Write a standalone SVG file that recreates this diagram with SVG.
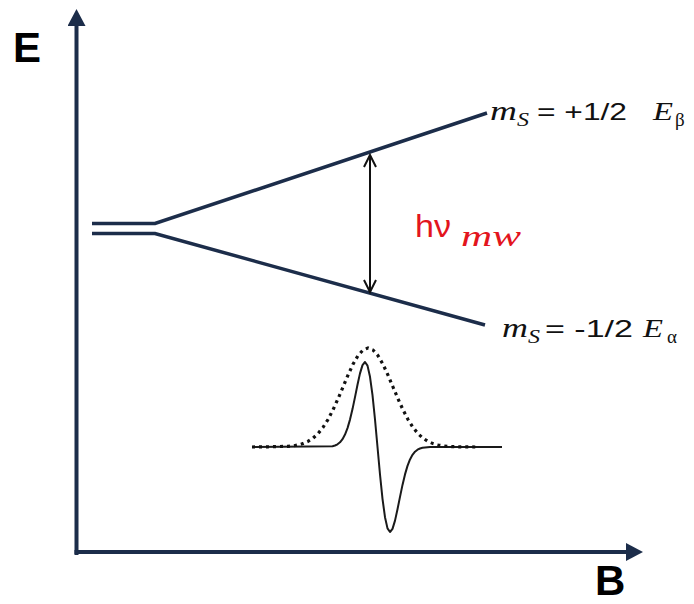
<svg xmlns="http://www.w3.org/2000/svg" width="694" height="604" viewBox="0 0 694 604">
<style>
.axis{stroke:#1c2d4a;stroke-width:4;fill:none}
.level{stroke:#1c2d4a;stroke-width:3.5;fill:none;stroke-linejoin:miter}
.conn{stroke:#111;stroke-width:2;fill:none}
.axlab{font-family:"Liberation Sans",Arial,sans-serif;font-weight:bold;font-size:42px;fill:#000}
.math{font-family:"Liberation Serif","Times New Roman",serif;font-style:italic;fill:#111}
.num{font-family:"Liberation Sans",Arial,sans-serif;font-size:24px;fill:#111}
.greek{font-family:"Liberation Serif","Times New Roman",serif;font-size:19px;fill:#111}
.red{fill:#e3151d}
.sig{stroke:#1a1a1a;stroke-width:2;fill:none;stroke-linejoin:round}
.dots{stroke:#111;stroke-width:3.2;fill:none;stroke-dasharray:3 4}
</style>
<defs>
<marker id="axhead" markerUnits="userSpaceOnUse" markerWidth="18" markerHeight="18" refX="10" refY="9" orient="auto">
<path d="M0,0 L17,9 L0,18 z" fill="#1c2d4a"/>
</marker>
<marker id="vhead" markerUnits="userSpaceOnUse" markerWidth="16" markerHeight="16" refX="13" refY="7" orient="auto-start-reverse">
<path d="M1,1 L13,7 L1,13" fill="none" stroke="#111" stroke-width="2"/>
</marker>
</defs>

<g id="axes">
<line class="axis" x1="76.5" y1="555" x2="76.5" y2="16" marker-end="url(#axhead)"/>
<line class="axis" x1="74.5" y1="552" x2="636" y2="552" marker-end="url(#axhead)"/>
<text class="axlab" x="13" y="62">E</text>
<text class="axlab" x="595" y="595" font-size="40">B</text>
</g>

<g id="level-beta">
<polyline class="level" points="92,223.5 155,223.5 487,113"/>
<text class="math" x="490" y="120" font-size="28" textLength="27" lengthAdjust="spacingAndGlyphs">m</text>
<text class="math" x="517" y="126" font-size="19" textLength="12" lengthAdjust="spacingAndGlyphs">S</text>
<text class="num" x="537" y="120" textLength="90" lengthAdjust="spacingAndGlyphs">= +1/2</text>
<text class="math" x="653" y="120" font-size="25" textLength="20" lengthAdjust="spacingAndGlyphs">E</text>
<text class="greek" x="675" y="126">β</text>
</g>

<g id="level-alpha">
<polyline class="level" points="92,233.5 155,233.5 485,325"/>
<text class="math" x="502" y="337" font-size="28" textLength="26" lengthAdjust="spacingAndGlyphs">m</text>
<text class="math" x="528" y="343" font-size="19" textLength="12" lengthAdjust="spacingAndGlyphs">S</text>
<text class="num" x="545" y="337" textLength="88" lengthAdjust="spacingAndGlyphs">= -1/2</text>
<text class="math" x="643" y="337" font-size="25" textLength="20" lengthAdjust="spacingAndGlyphs">E</text>
<text class="greek" x="667" y="343">α</text>
</g>

<g id="connectors">
<line class="conn" x1="370" y1="155" x2="370" y2="292" marker-start="url(#vhead)" marker-end="url(#vhead)"/>
</g>

<g id="transition-label">
<text class="red" x="415" y="237" font-family="Liberation Sans, Arial, sans-serif" font-size="32" textLength="36" lengthAdjust="spacingAndGlyphs">hν</text>
<text class="math red" x="461" y="246" font-size="30" textLength="60" lengthAdjust="spacingAndGlyphs">mw</text>
</g>

<g id="spectrum">
<polyline class="sig" points="252,447 332.5,446.2 335,445.5 337.5,444.3 340,442.3 342.5,439.2 345,434.6 347.5,428.1 350,419.6 352.5,409.1 355,397.1 357.5,384.7 360,373.4 362.5,365.1 365,362 367.5,365.6 370,376.8 372.5,395.2 375,419.5 377.5,447 380,474.5 382.5,498.8 385,517.2 387.5,528.4 390,532 392.5,528.9 395,520.6 397.5,509.3 400,496.9 402.5,484.9 405,474.4 407.5,465.9 410,459.4 412.5,454.8 415,451.7 417.5,449.7 420,448.5 422.5,447.8 430,447 502,447"/>
<polyline class="dots" points="252,447 268,446.8 278,446.5 288,446.4 293,445.9 298,445 303,443.6 308,441.4 313,438.2 318,433.6 323,427.4 328,419.5 333,409.8 338,398.8 343,387 348,375.1 353,364.3 358,355.6 363,350 368,348 373,350 378,355.6 383,364.3 388,375.1 393,387 398,398.8 403,409.8 408,419.5 413,427.4 418,433.6 423,438.2 428,441.4 433,443.6 438,445 443,445.9 448,446.4 458,446.8 477,447"/>
</g>
</svg>
